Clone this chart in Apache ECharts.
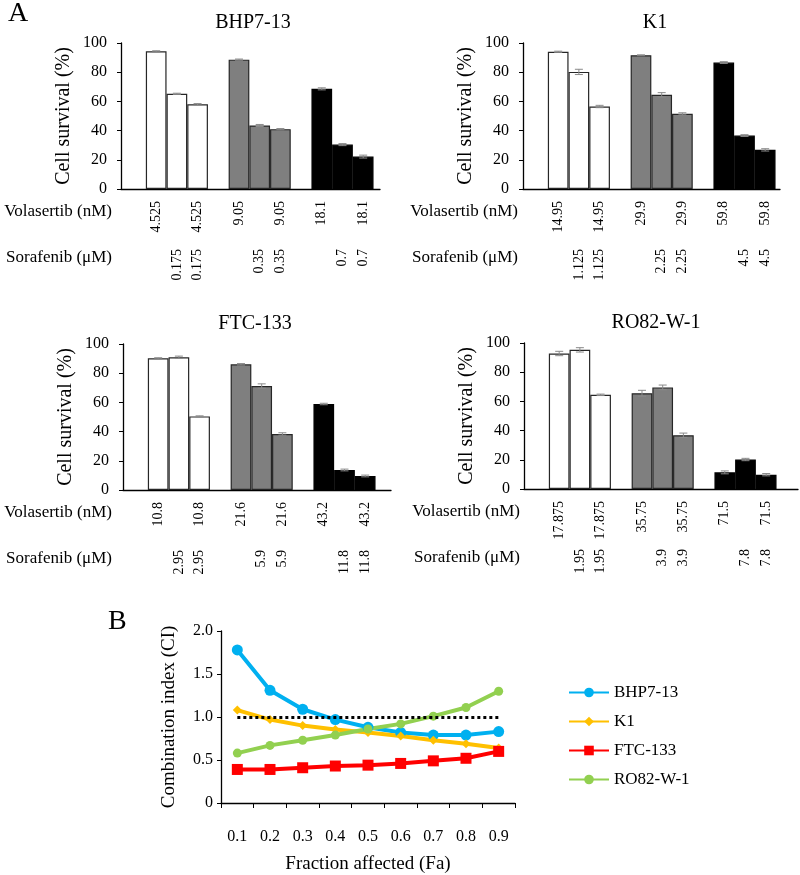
<!DOCTYPE html>
<html>
<head>
<meta charset="utf-8">
<script src="https://cdn.jsdelivr.net/npm/echarts@6/dist/echarts.min.js"></script>
<style>
html, body { margin: 0; padding: 0; background: #fff; }
#main { width: 800px; height: 875px; }
</style>
</head>
<body>
<div id="main"></div>
<script>
// ---- panel A : cell survival (%) ----
var survBHP  = [94.3, 65.2, 58.0, 88.6, 43.5, 41.0, 68.6, 30.4, 22.2];
var survK1   = [94.0, 80.2, 56.5, 91.6, 64.5, 51.5, 86.6, 36.6, 26.8];
var survFTC  = [90.2, 90.9, 50.4, 86.1, 71.2, 38.4, 58.9, 13.7, 9.6];
var survRO82 = [92.8, 95.3, 64.5, 65.6, 69.6, 36.8, 11.4, 20.2, 9.8];

var errBHP  = [0.4, 0.4, 0.5, 0.4, 0.7, 0.4, 0.7, 0.7, 1.0];
var errK1   = [0.4, 1.8, 0.8, 0.3, 1.5, 0.7, 0.6, 0.6, 0.8];
var errFTC  = [0.4, 0.8, 0.4, 0.5, 1.5, 0.8, 0.5, 0.6, 0.6];
var errRO82 = [1.5, 1.5, 0.5, 2.0, 1.6, 1.5, 1.0, 0.8, 0.8];

var volaBHP  = ['4.525', '', '4.525', '9.05', '', '9.05', '18.1', '', '18.1'];
var soraBHP  = ['', '0.175', '0.175', '', '0.35', '0.35', '', '0.7', '0.7'];
var volaK1   = ['14.95', '', '14.95', '29.9', '', '29.9', '59.8', '', '59.8'];
var soraK1   = ['', '1.125', '1.125', '', '2.25', '2.25', '', '4.5', '4.5'];
var volaFTC  = ['10.8', '', '10.8', '21.6', '', '21.6', '43.2', '', '43.2'];
var soraFTC  = ['', '2.95', '2.95', '', '5.9', '5.9', '', '11.8', '11.8'];
var volaRO82 = ['17.875', '', '17.875', '35.75', '', '35.75', '71.5', '', '71.5'];
var soraRO82 = ['', '1.95', '1.95', '', '3.9', '3.9', '', '7.8', '7.8'];

// ---- panel B : combination index ----
var faLabels = ['0.1', '0.2', '0.3', '0.4', '0.5', '0.6', '0.7', '0.8', '0.9'];
var ciBHP  = [1.78, 1.31, 1.09, 0.97, 0.88, 0.82, 0.79, 0.79, 0.83];
var ciK1   = [1.08, 0.97, 0.90, 0.855, 0.82, 0.78, 0.73, 0.69, 0.64];
var ciFTC  = [0.39, 0.39, 0.41, 0.43, 0.44, 0.46, 0.49, 0.52, 0.60];
var ciRO82 = [0.58, 0.67, 0.73, 0.79, 0.86, 0.92, 1.01, 1.11, 1.30];
var ciRef  = 1.0;

var FONT = 'Liberation Serif';
var groupColors = ['#ffffff', '#7f7f7f', '#000000'];
var slotPx = 20.7;

var panels = [
	{ name: 'BHP7-13', surv: survBHP, err: errBHP, vola: volaBHP, sora: soraBHP, left: 121, top: 43, width: 259, rowRight: 112 },
	{ name: 'K1', surv: survK1, err: errK1, vola: volaK1, sora: soraK1, left: 523, top: 43, width: 257, rowRight: 518 },
	{ name: 'FTC-133', surv: survFTC, err: errFTC, vola: volaFTC, sora: soraFTC, left: 123, top: 344, width: 268, rowRight: 112 },
	{ name: 'RO82-W-1', surv: survRO82, err: errRO82, vola: volaRO82, sora: soraRO82, left: 524, top: 343, width: 274, rowRight: 520 }
];

// bar index -> x position (one empty slot between the three groups)
function barPos(i) { return i + Math.floor(i / 3); }
var positions = [0, 1, 2, 3, 4, 5, 6, 7, 8].map(barPos);

var grid = [], xAxis = [], yAxis = [], series = [], graphic = [];

function errorBar(params, api) {
	var x = api.value(0);
	var top = api.coord([x, api.value(2)]);
	var bot = api.coord([x, api.value(1)]);
	var st = { stroke: '#8a8a8a', lineWidth: 1, fill: null };
	return {
		type: 'group',
		children: [
			{ type: 'line', shape: { x1: top[0], y1: top[1], x2: bot[0], y2: bot[1] }, style: st },
			{ type: 'line', shape: { x1: top[0] - 4, y1: top[1], x2: top[0] + 4, y2: top[1] }, style: st },
			{ type: 'line', shape: { x1: bot[0] - 4, y1: bot[1], x2: bot[0] + 4, y2: bot[1] }, style: st }
		]
	};
}

panels.forEach(function (p, k) {
	var h = 146;
	var xmin = -1.7;
	grid.push({ left: p.left, top: p.top, width: p.width, height: h });

	var labelAxis = function (labels, margin, showLine) {
		return {
			type: 'value', gridIndex: k, position: 'bottom',
			min: xmin, max: xmin + p.width / slotPx,
			axisLine: { show: showLine, onZero: false, lineStyle: { color: '#000', width: 1.3 } },
			axisTick: { show: false },
			splitLine: { show: false },
			axisLabel: {
				customValues: positions, rotate: 90, margin: margin,
				hideOverlap: false,
				fontFamily: FONT, fontSize: 14, color: '#000',
				formatter: function (v) {
					var idx = positions.indexOf(Math.round(v));
					return idx < 0 ? '' : labels[idx];
				}
			}
		};
	};
	xAxis.push(labelAxis(p.vola, 12, true));
	xAxis.push(labelAxis(p.sora, 60, false));

	yAxis.push({
		type: 'value', gridIndex: k, min: 0, max: 100, interval: 20,
		name: 'Cell survival (%)', nameLocation: 'middle', nameGap: 47,
		nameTextStyle: { fontFamily: FONT, fontSize: 20, color: '#000' },
		axisLine: { show: true, onZero: false, lineStyle: { color: '#000', width: 1.3 } },
		axisTick: { show: true, length: 4, lineStyle: { color: '#000' } },
		splitLine: { show: false },
		axisLabel: { fontFamily: FONT, fontSize: 16, color: '#000', margin: 14 }
	});

	series.push({
		type: 'bar', xAxisIndex: k * 2, yAxisIndex: k, barWidth: slotPx,
		data: p.surv.map(function (v, i) {
			var g = Math.floor(i / 3);
			return {
				value: [barPos(i), v],
				itemStyle: { color: groupColors[g], borderColor: g === 2 ? '#000' : '#262626', borderWidth: 1.2 }
			};
		})
	});

	series.push({
		type: 'custom', xAxisIndex: k * 2, yAxisIndex: k, z: 5,
		dimensions: ['pos', 'lo', 'hi'],
		data: p.surv.map(function (v, i) { return [barPos(i), v - p.err[i], v + p.err[i]]; }),
		renderItem: errorBar
	});

	// panel title and row captions
	var axisY = p.top + h;
	graphic.push({ type: 'text', x: p.left + 132, y: p.top - 20, style: { text: p.name, font: '20px "' + FONT + '"', fill: '#000', align: 'center', verticalAlign: 'middle' } });
	graphic.push({ type: 'text', x: p.rowRight, y: axisY + 23, style: { text: 'Volasertib (nM)', font: '17px "' + FONT + '"', fill: '#000', align: 'right', verticalAlign: 'middle' } });
	graphic.push({ type: 'text', x: p.rowRight, y: axisY + 69, style: { text: 'Sorafenib (\u03bcM)', font: '17px "' + FONT + '"', fill: '#000', align: 'right', verticalAlign: 'middle' } });
});

graphic.push({ type: 'text', x: 8, y: 0, style: { text: 'A', font: '28px "' + FONT + '"', fill: '#000' } });
graphic.push({ type: 'text', x: 108, y: 608, style: { text: 'B', font: '28px "' + FONT + '"', fill: '#000' } });

// panel B grid
grid.push({ left: 221, top: 631, width: 294, height: 173 });
xAxis.push({
	type: 'category', gridIndex: 4, data: faLabels, boundaryGap: true,
	name: 'Fraction affected (Fa)', nameLocation: 'middle', nameGap: 52,
	nameTextStyle: { fontFamily: FONT, fontSize: 19, color: '#000' },
	axisLine: { onZero: false, lineStyle: { color: '#000', width: 1.3 } },
	axisTick: { show: true, interval: 0, length: 5, lineStyle: { color: '#000' } },
	axisLabel: { fontFamily: FONT, fontSize: 16, color: '#000', margin: 26 }
});
yAxis.push({
	type: 'value', gridIndex: 4, min: 0, max: 2, interval: 0.5,
	name: 'Combination index (CI)', nameLocation: 'middle', nameGap: 42,
	nameTextStyle: { fontFamily: FONT, fontSize: 19, color: '#000' },
	axisLine: { show: true, onZero: false, lineStyle: { color: '#000', width: 1.3 } },
	axisTick: { show: true, length: 4, lineStyle: { color: '#000' } },
	splitLine: { show: false },
	axisLabel: {
		fontFamily: FONT, fontSize: 16, color: '#000', margin: 8,
		formatter: function (v) { return v === 0 ? '0' : v.toFixed(1); }
	}
});

series.push({
	name: 'ref', type: 'line', xAxisIndex: 8, yAxisIndex: 4, data: [], z: 1,
	markLine: {
		silent: true, symbol: 'none', label: { show: false },
		lineStyle: { color: '#000', type: [3, 3], width: 3 },
		data: [[{ coord: [0, ciRef] }, { coord: [8, ciRef] }]]
	}
});

var ciLines = [
	{ name: 'BHP7-13', data: ciBHP, color: '#00b0f0', symbol: 'circle', size: 11 },
	{ name: 'K1', data: ciK1, color: '#ffc000', symbol: 'diamond', size: 9 },
	{ name: 'FTC-133', data: ciFTC, color: '#ff0000', symbol: 'rect', size: 11 },
	{ name: 'RO82-W-1', data: ciRO82, color: '#92d050', symbol: 'circle', size: 9 }
];
ciLines.forEach(function (s) {
	series.push({
		name: s.name, type: 'line', xAxisIndex: 8, yAxisIndex: 4, z: 3,
		data: s.data, symbol: s.symbol, symbolSize: s.size,
		itemStyle: { color: s.color },
		lineStyle: { color: s.color, width: 4 }
	});
});

var chart = echarts.init(document.getElementById('main'));
chart.setOption({
	animation: false,
	textStyle: { fontFamily: FONT },
	grid: grid,
	xAxis: xAxis,
	yAxis: yAxis,
	legend: {
		data: ciLines.map(function (s) { return s.name; }),
		orient: 'vertical', left: 563, top: 679, itemGap: 12,
		itemWidth: 40, itemHeight: 12,
		textStyle: { fontFamily: FONT, fontSize: 17, color: '#000' }
	},
	graphic: graphic,
	series: series
});
</script>
</body>
</html>
